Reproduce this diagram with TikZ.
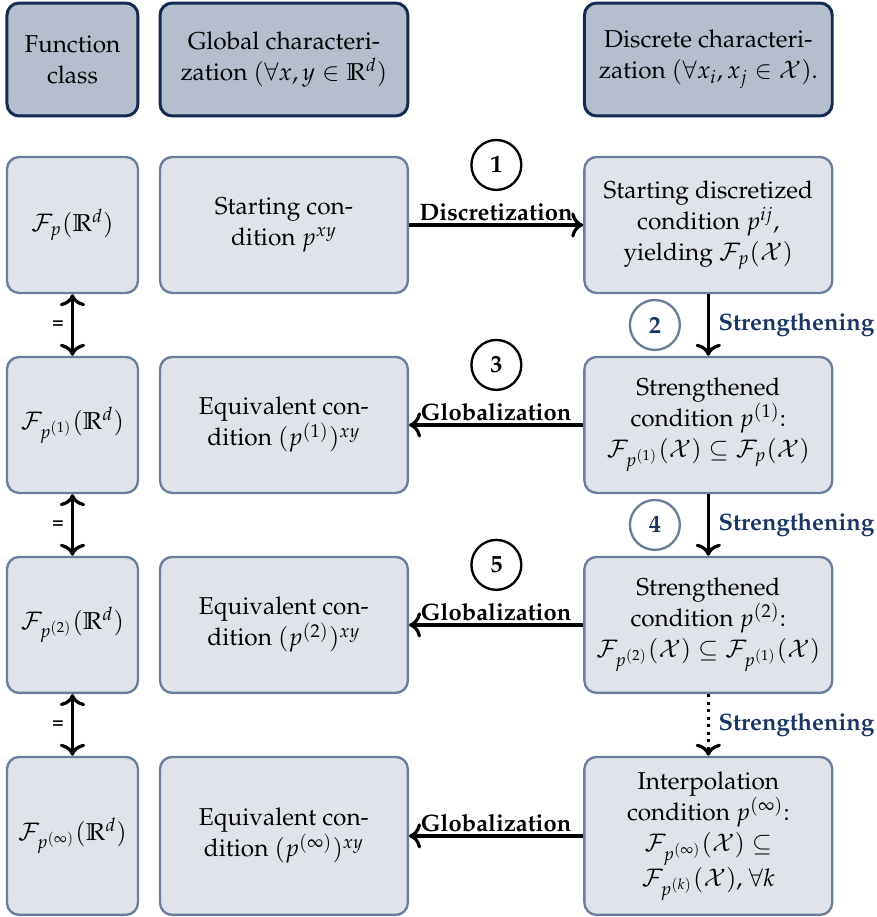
\documentclass[tikz,border=0pt]{standalone}
\usepackage[T1]{fontenc}
\usepackage{mathpazo}
\usetikzlibrary{positioning,arrows.meta}
\definecolor{headfill}{HTML}{B4BECD}
\definecolor{headline}{HTML}{142A50}
\definecolor{cellfill}{HTML}{E0E3EA}
\definecolor{cellline}{HTML}{6A7E9C}
\definecolor{navy}{HTML}{1A3562}
\tikzset{
  box/.style={rectangle, rounded corners=0.2cm, align=center, inner sep=2pt,
    font=\fontsize{11.4}{14.5}\selectfont, minimum height=2.233cm},
  head/.style={box, draw=headline, fill=headfill, line width=1.4pt, minimum height=1.855cm},
  cell/.style={box, draw=cellline, fill=cellfill, line width=1.1pt},
  narrow/.style={minimum width=2.151cm},
  wide/.style={minimum width=4.07cm},
  tall/.style={minimum height=2.594cm},
  arrowlabel/.style={font=\fontsize{11.1}{14}\selectfont\bfseries, inner sep=1pt},
  stronglabel/.style={arrowlabel, text=navy, inner sep=4pt},
  stepnum/.style={circle, draw, line width=1.1pt, minimum size=0.82cm, inner sep=0pt,
    font=\fontsize{11.4}{14.5}\selectfont\bfseries},
  substep/.style={stepnum, draw=cellline, text=navy},
}
\begin{document}
\begin{tikzpicture}[line width=1.5pt, >={To[scale=1.15]}]
  \useasboundingbox (0,0) rectangle (14.40,-15.06);
  % column headers
  \node[head, narrow] (fc) at (1.190,-0.977) {Function\\class};
  \node[head, wide] (gc) [right of=fc, node distance=3.473cm] {Global characteri-\\zation $(\forall x, y \in \mathbb{R}^d)$};
  \node[head, wide] (dc) [right of=gc, node distance=6.970cm] {Discrete characteri-\\zation $(\forall x_i, x_j \in \mathcal{X})$.};
  % function classes
  \node[cell, narrow] (F0) [below of=fc, node distance=2.718cm] {$\mathcal{F}_p(\mathbb{R}^d)$};
  \node[cell, narrow] (F1) [below of=F0, node distance=3.284cm] {$\mathcal{F}_{p^{(1)}}(\mathbb{R}^d)$};
  \node[cell, narrow] (F2) [below of=F1, node distance=3.284cm] {$\mathcal{F}_{p^{(2)}}(\mathbb{R}^d)$};
  \node[cell, narrow, tall] (F3) [below of=F2, node distance=3.465cm] {$\mathcal{F}_{p^{(\infty)}}(\mathbb{R}^d)$};
  % global conditions
  \node[cell, wide] (G0) [right of=F0, node distance=3.473cm] {Starting con-\\dition $p^{xy}$};
  \node[cell, wide] (G1) [right of=F1, node distance=3.473cm] {Equivalent con-\\dition $(p^{(1)})^{xy}$};
  \node[cell, wide] (G2) [right of=F2, node distance=3.473cm] {Equivalent con-\\dition $(p^{(2)})^{xy}$};
  \node[cell, wide, tall] (G3) [right of=F3, node distance=3.473cm] {Equivalent con-\\dition $(p^{(\infty)})^{xy}$};
  % discrete conditions
  \node[cell, wide] (D0) [right of=G0, node distance=6.970cm] {Starting discretized\\condition $p^{ij}$,\\yielding $\mathcal{F}_p(\mathcal{X})$};
  \node[cell, wide] (D1) [right of=G1, node distance=6.970cm] {Strengthened\\condition $p^{(1)}$:\\$\mathcal{F}_{p^{(1)}}(\mathcal{X}) \subseteq \mathcal{F}_p(\mathcal{X})$};
  \node[cell, wide] (D2) [right of=G2, node distance=6.970cm] {Strengthened\\condition $p^{(2)}$:\\$\mathcal{F}_{p^{(2)}}(\mathcal{X}) \subseteq \mathcal{F}_{p^{(1)}}(\mathcal{X})$};
  \node[cell, wide, tall] (D3) [right of=G3, node distance=6.970cm] {Interpolation\\condition $p^{(\infty)}$:\\$\mathcal{F}_{p^{(\infty)}}(\mathcal{X}) \subseteq$\\$\mathcal{F}_{p^{(k)}}(\mathcal{X})$, $\forall k$};
  % step numbers
  \node[stepnum] (n1) at (8.152,-2.709) {1};
  \node[substep] (n2) at (10.755,-5.337) {2};
  \node[stepnum] (n3) at (8.152,-5.993) {3};
  \node[substep] (n4) at (10.755,-8.621) {4};
  \node[stepnum] (n5) at (8.152,-9.277) {5};
  \path[->] (G0) edge node[above, arrowlabel] {Discretization} (D0)
            (D0) edge node[right, stronglabel] {Strengthening} (D1)
            (D1) edge node[above, arrowlabel] {Globalization} (G1)
            (D1) edge node[right, stronglabel] {Strengthening} (D2)
            (D2) edge node[above, arrowlabel] {Globalization} (G2)
            (D2) edge [dotted] node[right, stronglabel] {Strengthening} (D3)
            (D3) edge node[above, arrowlabel] {Globalization} (G3)
            ;
  \path[<->] (F0) edge node[left, font=\small\bfseries] {=} (F1)
             (F1) edge node[left, font=\small\bfseries] {=} (F2)
             (F2) edge node[left, font=\small\bfseries] {=} (F3)
             ;
\end{tikzpicture}
\end{document}
